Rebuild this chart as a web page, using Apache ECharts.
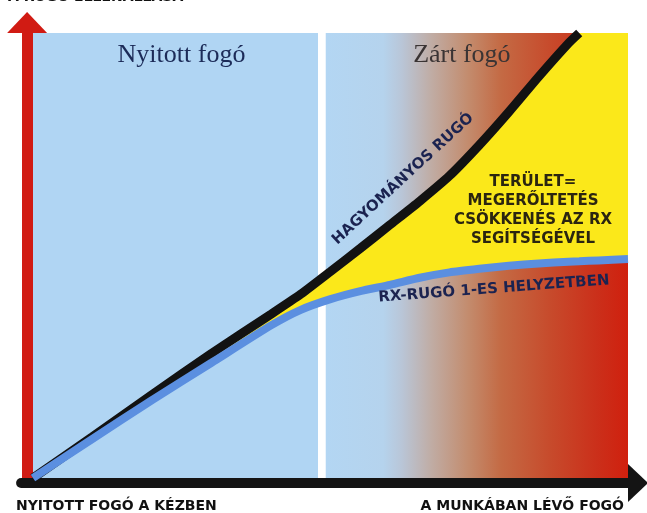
<!DOCTYPE html>
<html>
<head>
<meta charset="utf-8">
<script src="https://cdn.jsdelivr.net/npm/echarts@6/dist/echarts.min.js"></script>
<style>
  html, body { margin: 0; padding: 0; background: #fff; }
  #chart { width: 647px; height: 513px; }
</style>
</head>
<body>
<div id="chart"></div>
<script>
// values (x: 0..100 grip travel, y: 0..100 spring force)
var xVals = [0, 10, 20, 30, 40, 45, 50, 55, 60, 65, 70, 75, 80, 85, 90, 91.8, 95, 100];
var blueVals = [0, 8.8, 17.5, 25.9, 34.3, 37.8, 40.2, 42, 43.4, 45, 46.2, 47, 47.7, 48.2, 48.6, 48.7, 48.9, 49.2];
var blackVals = [0, 9.3, 18.7, 28, 36.8, 41.3, 46.4, 51.6, 56.9, 62.2, 67.9, 74.8, 82.3, 90.2, 97.7, 100];
var yMax = 100;
var zones = [['Nyitott fogó', 0, 47.9], ['Zárt fogó', 49.2, 100]];
var axisNames = ['A RUGÓ ELLENÁLLÁSA', 'NYITOTT FOGÓ A KÉZBEN', 'A MUNKÁBAN LÉVŐ FOGÓ'];
var curveNames = ['HAGYOMÁNYOS RUGÓ', 'RX-RUGÓ 1-ES HELYZETBEN'];
var areaLines = ['TERÜLET=', 'MEGERŐLTETÉS', 'CSÖKKENÉS AZ RX', 'SEGÍTSÉGÉVEL'];

var chart = echarts.init(document.getElementById('chart'));

var pairs = function (ys) {
  return ys.map(function (y, i) { return [xVals[i], y]; });
};
// yellow band: x, blue curve, black curve (top of plot once black leaves it)
var band = xVals.map(function (x, i) {
  return [x, blueVals[i], i < blackVals.length ? blackVals[i] : yMax];
});

function renderBand(params, api) {
  if (params.dataIndexInside !== 0) return null;
  var n = params.dataInsideLength, top = [], bottom = [];
  for (var j = 0; j < n; j++) {
    top.push(api.coord([api.value(0, j), api.value(2, j)]));
    bottom.unshift(api.coord([api.value(0, j), api.value(1, j)]));
  }
  return {
    type: 'polygon',
    shape: { points: top.concat(bottom) },
    style: { fill: '#fbe81a' }
  };
}

var bold = 'DejaVu Sans';
var option = {
  animation: false,
  grid: { left: 21.1, right: 19, top: 33, bottom: 35 },
  xAxis: {
    type: 'value', min: -2, max: 100, offset: 5,
    axisLine: {
      onZero: false,
      lineStyle: { color: '#141414', width: 10 },
      symbol: ['none', 'triangle'], symbolSize: [38, 20], symbolOffset: [0, 10]
    },
    axisTick: { show: false }, axisLabel: { show: false }, splitLine: { show: false }
  },
  yAxis: {
    type: 'value', min: 0, max: yMax, offset: -6,
    axisLine: {
      show: true, onZero: false,
      lineStyle: { color: '#d11b13', width: 11 },
      symbol: ['none', 'triangle'], symbolSize: [40, 21], symbolOffset: [0, 10.5]
    },
    axisTick: { show: false }, axisLabel: { show: false }, splitLine: { show: false }
  },
  series: [
    {
      type: 'line', data: [], z: 1,
      markArea: {
        silent: true,
        label: {
          show: true, position: 'insideTop', distance: 9,
          fontFamily: 'Liberation Serif', fontSize: 26, color: '#1c2b58'
        },
        data: [
          [{ name: zones[0][0], xAxis: zones[0][1], yAxis: 0,
             label: { offset: [6, 0] },
             itemStyle: { color: '#b0d5f3' } },
           { xAxis: zones[0][2], yAxis: yMax }],
          [{ name: zones[1][0], xAxis: zones[1][1], yAxis: 0,
             label: { color: '#3a3434', offset: [-15, 0] },
             itemStyle: {
               color: new echarts.graphic.LinearGradient(0, 0, 1, 0, [
                 { offset: 0, color: '#b3d6f3' },
                 { offset: 0.19, color: '#b5d3ed' },
                 { offset: 0.25, color: '#b9c6d8' },
                 { offset: 0.35, color: '#c0aca4' },
                 { offset: 0.47, color: '#c38c6e' },
                 { offset: 0.58, color: '#c46a44' },
                 { offset: 0.74, color: '#c74b2c' },
                 { offset: 0.9, color: '#cb2f1a' },
                 { offset: 1, color: '#d0200e' }
               ])
             } },
           { xAxis: zones[1][2], yAxis: yMax }]
        ]
      }
    },
    {
      type: 'custom', data: band, z: 2, silent: true,
      encode: { x: 0, y: [1, 2] },
      renderItem: renderBand
    },
    {
      name: curveNames[0], type: 'line', data: pairs(blackVals),
      smooth: 0.2, symbol: 'none', z: 3,
      lineStyle: { color: '#121212', width: 9 }
    },
    {
      name: curveNames[1], type: 'line', data: pairs(blueVals),
      smooth: 0.2, symbol: 'none', z: 4,
      lineStyle: { color: '#5b8fe0', width: 8 }
    }
  ],
  graphic: [
    { type: 'text', left: 8, top: -10,
      style: { text: axisNames[0], font: 'bold 14px ' + bold, fill: '#111' } },
    { type: 'text', x: 16, y: 506,
      style: { text: axisNames[1], font: 'bold 14px ' + bold, fill: '#111', verticalAlign: 'middle' } },
    { type: 'text', x: 624, y: 506,
      style: { text: axisNames[2], font: 'bold 14px ' + bold, fill: '#111', align: 'right', verticalAlign: 'middle' } },
    { type: 'text', x: 403, y: 179, rotation: 0.745, z: 10,
      style: { text: curveNames[0], font: 'bold 15px ' + bold, fill: '#1b2350',
               align: 'center', verticalAlign: 'middle' } },
    { type: 'text', x: 494, y: 289, rotation: 0.075, z: 10,
      style: { text: curveNames[1], font: 'bold 15px ' + bold, fill: '#1b2350',
               align: 'center', verticalAlign: 'middle' } },
    { type: 'text', x: 533, y: 211, z: 10,
      style: { text: areaLines.join('\n'), font: 'bold 15px ' + bold, fill: '#2b2510',
               lineHeight: 19, align: 'center', verticalAlign: 'middle' } }
  ]
};
chart.setOption(option);
</script>
</body>
</html>
